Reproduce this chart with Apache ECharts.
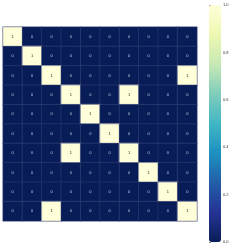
<!DOCTYPE html>
<html><head><meta charset="utf-8">
<script src="https://cdn.jsdelivr.net/npm/echarts@6/dist/echarts.min.js"></script>
<style>html,body{margin:0;padding:0;background:#fff}#c{width:249px;height:249px}</style>
</head><body><div id="c"></div>
<script>
const xCats = ['0','1','2','3','4','5','6','7','8','9'];
const yCats = ['0','1','2','3','4','5','6','7','8','9'];
const matrix = [
  [1,0,0,0,0,0,0,0,0,0],
  [0,1,0,0,0,0,0,0,0,0],
  [0,0,1,0,0,0,0,0,0,1],
  [0,0,0,1,0,0,1,0,0,0],
  [0,0,0,0,1,0,0,0,0,0],
  [0,0,0,0,0,1,0,0,0,0],
  [0,0,0,1,0,0,1,0,0,0],
  [0,0,0,0,0,0,0,1,0,0],
  [0,0,0,0,0,0,0,0,1,0],
  [0,0,1,0,0,0,0,0,0,1]
];
const colorbarTicks = [0, 0.2, 0.4, 0.6, 0.8, 1.0];
const palette = ['#081d58','#253494','#225ea8','#1d91c0','#41b6c4','#7fcdbb','#c7e9b4','#edf8b1','#ffffd9'];

const data = [];
matrix.forEach((row, r) => row.forEach((v, c) => {
  data.push({
    value: [c, r, v],
    label: { color: v > 0.5 ? '#262626' : '#c8cce0' },
    itemStyle: v > 0.5 ? { borderColor: '#8a8fa8', borderWidth: 1 } : {}
  });
}));

const chart = echarts.init(document.getElementById('c'), null, { renderer: 'canvas' });
chart.setOption({
  animation: false,
  grid: [
    { left: 3, top: 27, width: 194, height: 194 },
    { left: 209, top: 5, width: 12, height: 237 }
  ],
  xAxis: [
    { type: 'category', data: xCats, gridIndex: 0, show: false },
    { type: 'value', gridIndex: 1, show: false, min: 0, max: 1 }
  ],
  yAxis: [
    { type: 'category', data: yCats, gridIndex: 0, inverse: true, show: false },
    { type: 'value', gridIndex: 1, position: 'right', min: 0, max: 1, interval: 0.2,
      axisLine: { show: false },
      axisTick: { show: true, length: 2, lineStyle: { color: '#333', width: 0.6 } },
      splitLine: { show: false },
      axisLabel: { fontSize: 4, color: '#333', margin: 2, formatter: v => v.toFixed(1) } }
  ],
  visualMap: {
    type: 'continuous', min: 0, max: 1, seriesIndex: 0,
    orient: 'vertical', left: 209, top: 5, itemWidth: 12, itemHeight: 237,
    padding: 0, text: null, calculable: false, showLabel: false,
    inRange: { color: palette }
  },
  series: [{
    type: 'heatmap', xAxisIndex: 0, yAxisIndex: 0, data: data,
    itemStyle: { borderColor: 'rgba(70,80,130,0.6)', borderWidth: 0.6 },
    label: { show: true, fontSize: 4, formatter: p => String(p.value[2]) },
    emphasis: { disabled: true }
  }]
});
</script></body></html>
